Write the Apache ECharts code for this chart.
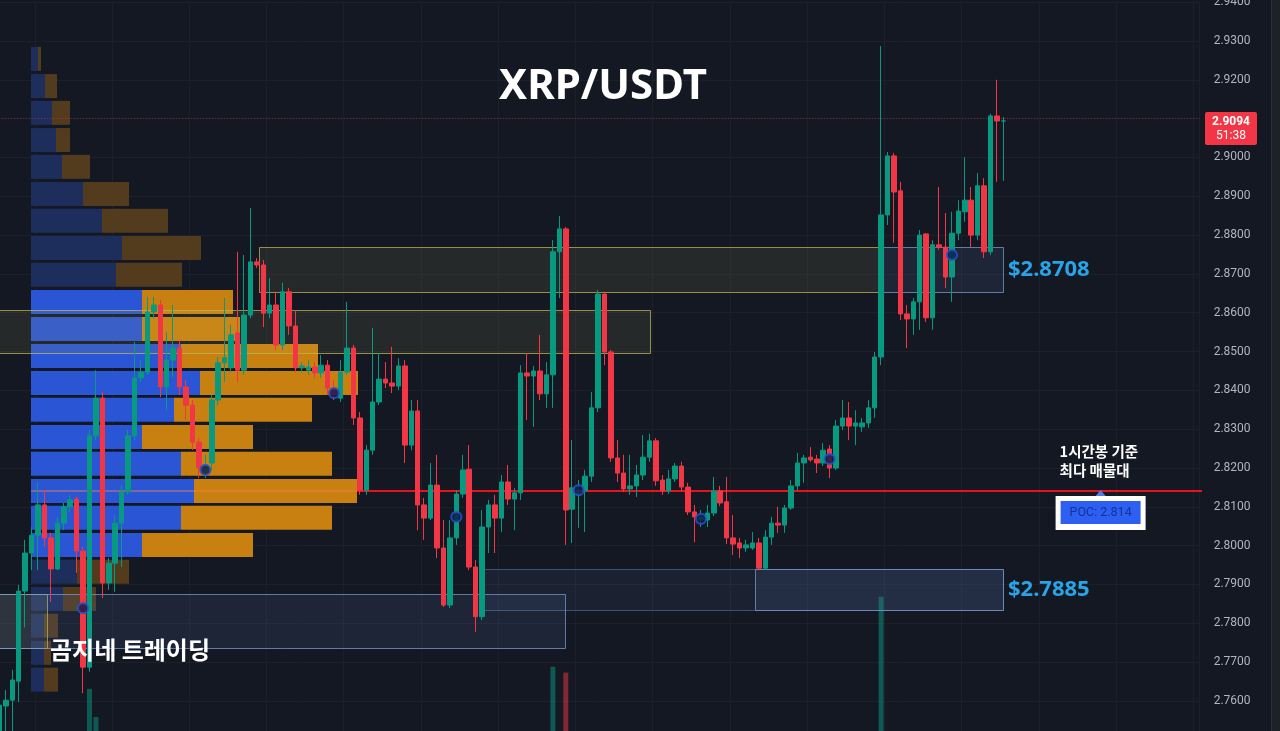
<!DOCTYPE html>
<html><head><meta charset="utf-8">
<script src="https://cdn.jsdelivr.net/npm/echarts/dist/echarts.min.js"></script>
<style>html,body{margin:0;padding:0;background:#141823;}#c{width:1280px;height:731px;}</style>
</head><body><div id="c"></div>
<script>
// ---- Candles (1h XRP/USDT): [open, high, low, close]
const candles = [
[2.7486,2.7602,2.7474,2.7589],[2.7587,2.7628,2.7512,2.7602],[2.7602,2.7680,2.7512,2.7654],[2.7651,2.7899,2.7597,2.7883],
[2.7883,2.8015,2.7789,2.7981],[2.7981,2.8048,2.7937,2.8027],[2.8027,2.8162,2.7937,2.8105],[2.8105,2.8143,2.7997,2.8020],
[2.8020,2.8033,2.7855,2.7940],[2.7940,2.8074,2.7937,2.8058],[2.8058,2.8110,2.8040,2.8100],[2.8100,2.8131,2.8087,2.8118],
[2.8120,2.8126,2.7930,2.7986],[2.7986,2.7997,2.7620,2.7687],[2.7687,2.8298,2.7675,2.8283],[2.8283,2.8452,2.8272,2.8380],
[2.8380,2.8396,2.7865,2.7904],[2.7904,2.7968,2.7886,2.7955],[2.7955,2.8079,2.7881,2.8058],[2.8058,2.8156,2.7945,2.8138],
[2.8138,2.8298,2.8131,2.8283],[2.8283,2.8525,2.8272,2.8432],[2.8432,2.8478,2.8422,2.8447],[2.8447,2.8641,2.8440,2.8602],
[2.8602,2.8641,2.8586,2.8620],[2.8620,2.8633,2.8383,2.8409],[2.8409,2.8550,2.8349,2.8478],[2.8478,2.8620,2.8434,2.8509],
[2.8509,2.8530,2.8388,2.8409],[2.8409,2.8427,2.8324,2.8362],[2.8362,2.8375,2.8246,2.8267],[2.8267,2.8277,2.8174,2.8200],
[2.8200,2.8234,2.8174,2.8208],[2.8213,2.8388,2.8195,2.8375],[2.8375,2.8486,2.8362,2.8471],[2.8471,2.8638,2.8422,2.8484],
[2.8458,2.8569,2.8447,2.8543],[2.8548,2.8757,2.8422,2.8452],[2.8452,2.8749,2.8440,2.8594],[2.8594,2.8870,2.8586,2.8731],
[2.8731,2.8741,2.8715,2.8723],[2.8723,2.8736,2.8563,2.8599],[2.8599,2.8689,2.8586,2.8620],[2.8620,2.8654,2.8504,2.8517],
[2.8517,2.8677,2.8504,2.8654],[2.8654,2.8664,2.8543,2.8566],[2.8566,2.8607,2.8447,2.8458],[2.8458,2.8473,2.8447,2.8463],
[2.8452,2.8478,2.8440,2.8460],[2.8460,2.8473,2.8432,2.8445],[2.8445,2.8491,2.8432,2.8465],[2.8465,2.8478,2.8388,2.8406],
[2.8406,2.8427,2.8375,2.8388],[2.8380,2.8478,2.8370,2.8447],[2.8447,2.8628,2.8440,2.8509],[2.8509,2.8517,2.8311,2.8329],
[2.8329,2.8344,2.8131,2.8143],[2.8143,2.8259,2.8131,2.8246],[2.8246,2.8561,2.8234,2.8370],[2.8370,2.8496,2.8362,2.8429],
[2.8429,2.8473,2.8406,2.8419],[2.8419,2.8512,2.8393,2.8411],[2.8411,2.8483,2.8401,2.8463],[2.8463,2.8478,2.8213,2.8259],
[2.8259,2.8375,2.8246,2.8347],[2.8347,2.8375,2.8040,2.8105],[2.8105,2.8123,2.8015,2.8071],[2.8071,2.8213,2.8066,2.8156],
[2.8156,2.8234,2.7968,2.7994],[2.7994,2.8066,2.7842,2.7847],[2.7847,2.8066,2.7839,2.8020],[2.8020,2.8143,2.8002,2.8133],
[2.8133,2.8234,2.8123,2.8195],[2.8197,2.8259,2.7937,2.7945],[2.7945,2.7963,2.7778,2.7817],[2.7817,2.8092,2.7808,2.8048],
[2.8048,2.8118,2.7981,2.8105],[2.8105,2.8131,2.7981,2.8071],[2.8071,2.8182,2.8035,2.8164],[2.8164,2.8208,2.8105,2.8120],
[2.8120,2.8149,2.8040,2.8136],[2.8136,2.8465,2.8118,2.8445],[2.8445,2.8496,2.8324,2.8437],[2.8437,2.8463,2.8306,2.8450],
[2.8450,2.8543,2.8375,2.8391],[2.8391,2.8473,2.8355,2.8440],[2.8440,2.8787,2.8355,2.8757],[2.8757,2.8849,2.8638,2.8816],
[2.8816,2.8821,2.8002,2.8092],[2.8094,2.8272,2.8007,2.8149],[2.8131,2.8169,2.8046,2.8143],[2.8141,2.8195,2.8035,2.8179],
[2.8179,2.8396,2.8164,2.8355],[2.8355,2.8659,2.8344,2.8648],[2.8648,2.8654,2.8465,2.8499],[2.8499,2.8504,2.8216,2.8226],
[2.8226,2.8272,2.8164,2.8187],[2.8187,2.8234,2.8138,2.8146],[2.8146,2.8234,2.8131,2.8154],[2.8154,2.8208,2.8125,2.8182],
[2.8182,2.8285,2.8169,2.8228],[2.8228,2.8288,2.8216,2.8270],[2.8270,2.8277,2.8154,2.8167],[2.8169,2.8182,2.8131,2.8141],
[2.8141,2.8195,2.8133,2.8172],[2.8172,2.8213,2.8164,2.8205],[2.8205,2.8216,2.8141,2.8151],[2.8151,2.8162,2.8079,2.8087],
[2.8087,2.8105,2.8009,2.8074],[2.8066,2.8092,2.8048,2.8074],[2.8066,2.8105,2.8048,2.8084],[2.8084,2.8177,2.8076,2.8141],
[2.8141,2.8154,2.8102,2.8110],[2.8113,2.8177,2.8004,2.8020],[2.8020,2.8079,2.7976,2.8004],[2.8007,2.8020,2.7968,2.7994],
[2.7994,2.8015,2.7984,2.8002],[2.7994,2.8035,2.7989,2.8007],[2.8007,2.8020,2.7937,2.7942],[2.7942,2.8040,2.7937,2.8022],
[2.8022,2.8074,2.8002,2.8058],[2.8058,2.8100,2.8033,2.8053],[2.8053,2.8105,2.8033,2.8097],[2.8097,2.8169,2.8092,2.8154],
[2.8154,2.8239,2.8143,2.8213],[2.8213,2.8234,2.8162,2.8226],[2.8228,2.8254,2.8216,2.8221],[2.8223,2.8234,2.8187,2.8213],
[2.8213,2.8264,2.8205,2.8246],[2.8249,2.8259,2.8174,2.8200],[2.8200,2.8324,2.8195,2.8308],[2.8308,2.8375,2.8298,2.8329],
[2.8329,2.8370,2.8272,2.8308],[2.8308,2.8349,2.8259,2.8316],[2.8306,2.8329,2.8293,2.8316],[2.8316,2.8375,2.8303,2.8355],
[2.8355,2.8499,2.8329,2.8486],[2.8486,2.9287,2.8465,2.8852],[2.8852,2.9014,2.8826,2.9004],[2.9004,2.9012,2.8780,2.8911],
[2.8914,2.8937,2.8581,2.8597],[2.8597,2.8620,2.8509,2.8584],[2.8584,2.8638,2.8543,2.8628],[2.8628,2.8813,2.8556,2.8800],
[2.8803,2.8805,2.8576,2.8587],[2.8587,2.8787,2.8556,2.8775],[2.8775,2.8924,2.8762,2.8769],[2.8769,2.8857,2.8664,2.8692],
[2.8692,2.8860,2.8628,2.8805],[2.8805,2.8890,2.8787,2.8862],[2.8860,2.9001,2.8834,2.8890],[2.8890,2.8924,2.8769,2.8800],
[2.8800,2.8960,2.8787,2.8927],[2.8927,2.8947,2.8741,2.8757],[2.8757,2.9112,2.8749,2.9107],[2.9107,2.9200,2.8937,2.9094],
[2.9094,2.9104,2.8940,2.9094]
];
const slotCount = 187;                 // candle slots incl. empty future space
const volumeVisible = [[14, 6.9], [15, 3.1], [86, 9.9], [88, 9.1], [137, 19.4]]; // only bars that reach into view
const markerPoints = [[13, 2.7839], [32, 2.8195], [52, 2.8393], [71, 2.8074], [90, 2.8143], [109, 2.8069], [129, 2.8223], [148, 2.8749]];

// ---- Volume profile (fixed range): bin centre price, up volume, down volume
const vpPrice = [2.9250,2.9180,2.9111,2.9041,2.8972,2.8902,2.8833,2.8763,2.8694,2.8624,2.8554,2.8485,
                 2.8415,2.8346,2.8276,2.8207,2.8137,2.8068,2.7998,2.7929,2.7859,2.7790,2.7720,2.7651];
const vpUp   = [7,14,21,25,31,52,71,91,85,111,111,150,169,143,111,150,163,150,111,46,32,13,13,13];
const vpDown = [3,12,18,14,28,46,66,79,66,91,98,137,158,138,111,151,163,151,111,52,33,14,7,14];
const vpStep = 0.006955;
const valueAreaHigh = 2.8624, valueAreaLow = 2.7998;

// ---- Zones
const boxes = [
  {from: 40.34, to: 136.83, top: 2.8770, bottom: 2.8654, kind: 'yellow'},
  {from: -0.5, to: 101.09, top: 2.8607, bottom: 2.8496, kind: 'yellow'},
  {from: -0.5, to: 7.5, top: 2.7875, bottom: 2.7736, kind: 'yellow'},
  {from: -0.5, to: 87.88, top: 2.7875, bottom: 2.7736, kind: 'blue'},
  {from: 75.14, to: 155.93, top: 2.7940, bottom: 2.7834, kind: 'blueDim'},
  {from: 117.4, to: 155.93, top: 2.7940, bottom: 2.7834, kind: 'blue', label: '$2.7885'},
  {from: 136.6, to: 155.93, top: 2.8770, bottom: 2.8654, kind: 'blue', label: '$2.8708'}
];
const pocPrice = 2.8141, pocLineFrom = 55.56, pocLineTo = 187.4, pocLabelAt = 171.1;
const lastPrice = 2.9094, countdown = '51:38';
const yTicks = {min: 2.75, max: 2.94, step: 0.01};

const UP = '#089981', DOWN = '#f23645';
const boxStyles = {
  yellow:  {fill: 'rgba(205,195,95,0.10)', stroke: 'rgba(190,182,80,0.75)'},
  blue:    {fill: 'rgba(95,135,205,0.12)', stroke: 'rgba(120,155,205,0.75)'},
  blueDim: {fill: 'rgba(95,135,205,0.09)', stroke: 'rgba(100,135,185,0.5)'}
};

const chart = echarts.init(document.getElementById('c'), null, {renderer: 'canvas'});
const slotW = 6.436;
const gridMain = {left: -0.6 - slotW / 2, top: 2.18, width: slotW * slotCount, height: 737.58,
                  containLabel: false, outerBoundsMode: 'none'};
const cats = Array.from({length: slotCount}, (_, i) => String(i));

chart.setOption({
  backgroundColor: '#141823',
  animation: false,
  grid: [gridMain, {left: 31, top: gridMain.top, width: 1000, height: gridMain.height, containLabel: false, outerBoundsMode: 'none'}],
  xAxis: [
    {type: 'category', data: cats, gridIndex: 0, boundaryGap: true,
     axisLine: {show: false}, axisTick: {show: false}, axisLabel: {show: false},
     splitLine: {show: true, interval: (i) => i % 12 === 6, lineStyle: {color: '#1c202b', width: 1}}},
    {type: 'value', gridIndex: 0, min: -0.5, max: slotCount - 0.5, show: false},
    {type: 'value', gridIndex: 1, min: 0, max: 1000, show: false}
  ],
  yAxis: [
    {type: 'value', gridIndex: 0, position: 'right', min: yTicks.min, max: yTicks.max, interval: yTicks.step,
     axisLine: {show: false}, axisTick: {show: false},
     axisLabel: {margin: 14, color: '#b2b5be', fontSize: 12, fontFamily: 'Roboto', formatter: v => v.toFixed(4)},
     splitLine: {lineStyle: {color: '#1c202b', width: 1}}},
    {type: 'value', gridIndex: 0, min: 0, max: 100, show: false},
    {type: 'value', gridIndex: 1, min: yTicks.min, max: yTicks.max, show: false}
  ],
  series: [
    {type: 'bar', xAxisIndex: 0, yAxisIndex: 1, barWidth: 5, z: 1,
     data: volumeVisible.map(([i, v]) => ({value: [i, v], itemStyle: {color: candles[i][3] >= candles[i][0] ? 'rgba(8,153,129,0.5)' : 'rgba(242,54,69,0.5)'}}))},
    {type: 'custom', xAxisIndex: 2, yAxisIndex: 2, z: 2, silent: true,
     data: vpPrice.map((p, k) => [p, vpUp[k], vpDown[k]]),
     renderItem: (params, api) => {
       const p = api.value(0), u = api.value(1), d = api.value(2);
       const inVA = p <= valueAreaHigh + 1e-6 && p >= valueAreaLow - 1e-6;
       const t = api.coord([0, p + vpStep / 2]), b = api.coord([0, p - vpStep / 2]);
       const xu = api.coord([u, p])[0], xd = api.coord([u + d, p])[0];
       const h = b[1] - t[1] - 3;
       return {type: 'group', children: [
         {type: 'rect', shape: {x: t[0], y: t[1], width: xu - t[0], height: h}, style: {fill: inVA ? '#2a55d4' : '#1d2e5c'}},
         {type: 'rect', shape: {x: xu, y: t[1], width: xd - xu, height: h}, style: {fill: inVA ? '#c88010' : '#533b1d'}}
       ]};
     }},
    {type: 'line', xAxisIndex: 2, yAxisIndex: 2, z: 3, silent: true, symbol: 'none',
     data: [[0, pocPrice], [vpUp[16] + vpDown[16], pocPrice]],
     lineStyle: {color: 'rgba(255,130,80,0.55)', width: 1.5}},
    {type: 'custom', xAxisIndex: 1, yAxisIndex: 0, z: 3, silent: true,
     data: boxes.map(b => [b.from, b.to, b.top, b.bottom]),
     renderItem: (params, api) => {
       const b = boxes[params.dataIndex];
       const p1 = api.coord([b.from, b.top]), p2 = api.coord([b.to, b.bottom]);
       const st = boxStyles[b.kind];
       const ch = [{type: 'rect', shape: {x: Math.round(p1[0]) + 0.5, y: Math.round(p1[1]) + 0.5, width: Math.round(p2[0] - p1[0]), height: Math.round(p2[1] - p1[1])},
                    style: {fill: st.fill, stroke: st.stroke, lineWidth: 1}}];
       if (b.label) ch.push({type: 'text', style: {text: b.label, x: p2[0] + 5, y: (p1[1] + p2[1]) / 2,
                   fill: '#29a4e6', font: 'bold 22px "Noto Sans", "Liberation Sans", sans-serif', align: 'left', verticalAlign: 'middle'}});
       return {type: 'group', children: ch};
     }},
    {type: 'line', xAxisIndex: 1, yAxisIndex: 0, z: 4, silent: true, symbol: 'none', clip: false,
     data: [[pocLineFrom, pocPrice], [pocLineTo, pocPrice]],
     lineStyle: {color: '#e8121c', width: 2}},
    {type: 'candlestick', xAxisIndex: 0, yAxisIndex: 0, z: 5, barWidth: 5,
     data: candles.map(c => [c[0], c[3], c[2], c[1]]),
     itemStyle: {color: UP, color0: DOWN, borderColor: UP, borderColor0: DOWN, borderWidth: 1},
     markLine: {silent: true, symbol: ['none', 'none'], label: {show: false},
       lineStyle: {color: 'rgba(242,54,69,0.5)', type: [1, 2], width: 1},
       data: [{yAxis: lastPrice}]}},
    {type: 'scatter', xAxisIndex: 0, yAxisIndex: 0, z: 6, silent: true, symbol: 'circle', symbolSize: 10,
     data: markerPoints,
     itemStyle: {color: '#0c1a48', borderColor: '#2852cc', borderWidth: 2.2}}
  ]
});

const yLast = chart.convertToPixel({yAxisIndex: 0}, lastPrice);
const pocPt = chart.convertToPixel({xAxisIndex: 1, yAxisIndex: 0}, [pocLabelAt, pocPrice]);
const cx = pocPt[0], cy = pocPt[1];
chart.setOption({
  graphic: {elements: [
    {type: 'rect', silent: true, z: 100, shape: {x: 1272, y: 0, width: 8, height: 731}, style: {fill: '#1f2129'}},
    {type: 'rect', silent: true, z: 100, shape: {x: 1271, y: 0, width: 1, height: 731}, style: {fill: '#2c2f38'}},
    {type: 'text', silent: true, z: 100, style: {text: 'XRP/USDT', x: 603, y: 87, fill: '#ffffff',
      font: 'bold 42px "Noto Sans", "Liberation Sans", sans-serif', align: 'center', verticalAlign: 'middle'}},
    {type: 'text', silent: true, z: 100, style: {text: '곰지네 트레이딩', x: 50, y: 650, fill: '#ffffff',
      font: 'bold 24px "Noto Sans CJK KR", sans-serif', align: 'left', verticalAlign: 'middle'}},
    {type: 'text', silent: true, z: 100, style: {text: '1시간봉 기준', x: cx - 41, y: cy - 39, fill: '#ffffff',
      font: 'bold 14.5px "Noto Sans CJK KR", sans-serif', align: 'left', verticalAlign: 'middle'}},
    {type: 'text', silent: true, z: 100, style: {text: '최다 매물대', x: cx - 41, y: cy - 20, fill: '#ffffff',
      font: 'bold 14.5px "Noto Sans CJK KR", sans-serif', align: 'left', verticalAlign: 'middle'}},
    {type: 'polygon', silent: true, z: 100, shape: {points: [[cx - 5, cy + 5], [cx + 5, cy + 5], [cx, cy - 1]]}, style: {fill: '#4f7de6'}},
    {type: 'rect', silent: true, z: 100, shape: {x: cx - 45, y: cy + 5, width: 90, height: 34}, style: {fill: '#ffffff'}},
    {type: 'rect', silent: true, z: 101, shape: {x: cx - 40, y: cy + 10, width: 80, height: 23}, style: {fill: '#2d5ff2'}},
    {type: 'text', silent: true, z: 102, style: {text: 'POC: ' + pocPrice.toFixed(3), x: cx, y: cy + 22, fill: 'rgba(12,30,110,0.7)',
      font: '12.5px Roboto, sans-serif', align: 'center', verticalAlign: 'middle'}},
    {type: 'rect', silent: true, z: 100, shape: {x: 1205, y: yLast - 9, width: 52, height: 33, r: 2}, style: {fill: '#f23645'}},
    {type: 'text', silent: true, z: 101, style: {text: lastPrice.toFixed(4), x: 1231, y: yLast + 1, fill: '#ffffff',
      font: 'bold 12px Roboto, sans-serif', align: 'center', verticalAlign: 'middle'}},
    {type: 'text', silent: true, z: 101, style: {text: countdown, x: 1231, y: yLast + 15, fill: '#ffffff',
      font: '12px Roboto, sans-serif', align: 'center', verticalAlign: 'middle'}}
  ]}
});
</script>
</body></html>
